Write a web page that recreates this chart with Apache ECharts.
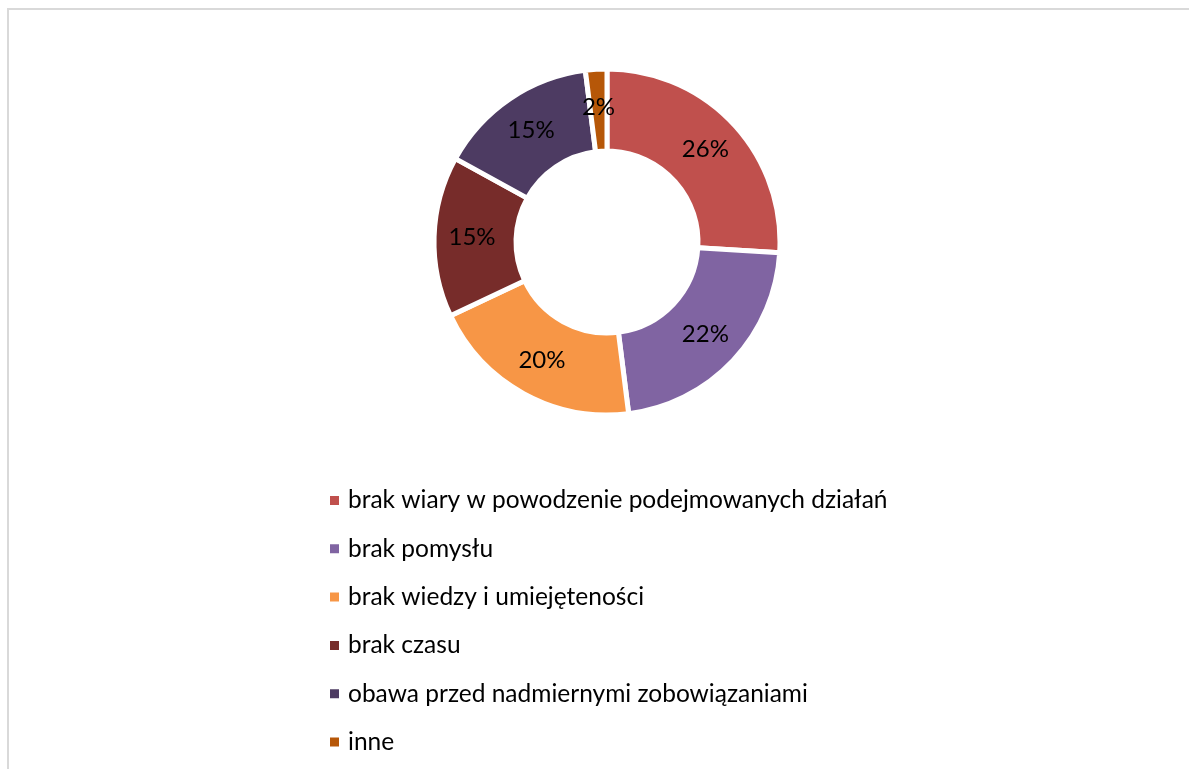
<!DOCTYPE html>
<html>
<head>
<meta charset="utf-8">
<script src="https://cdn.jsdelivr.net/npm/echarts@6/dist/echarts.min.js"></script>
<style>
  html, body { margin: 0; padding: 0; background: #fff; }
  #frame {
    position: absolute; left: 7px; top: 8px; width: 1182px; height: 761px;
    border-left: 2px solid #d9d9d9; border-top: 2px solid #d9d9d9;
  }
  #chart { position: absolute; left: 0; top: 0; width: 1189px; height: 769px; }
</style>
</head>
<body>
<div id="frame"></div>
<div id="chart"></div>
<script>
const categories = [
  'brak wiary w powodzenie podejmowanych działań',
  'brak pomysłu',
  'brak wiedzy i umiejęteności',
  'brak czasu',
  'obawa przed nadmiernymi zobowiązaniami',
  'inne'
];
const values = [26, 22, 20, 15, 15, 2];
const colors = ['#C0504D', '#8064A2', '#F79646', '#772C2A', '#4D3B62', '#B65708'];

const chart = echarts.init(document.getElementById('chart'));
chart.setOption({
  animation: false,
  color: colors,
  textStyle: { fontFamily: 'Lato' },
  legend: {
    orient: 'vertical',
    left: 323,
    top: 483,
    icon: 'rect',
    itemWidth: 11,
    itemHeight: 11,
    itemGap: 23.3,
    data: categories,
    textStyle: {
      fontFamily: 'Lato',
      fontSize: 24.5,
      color: '#000',
      lineHeight: 24,
      padding: [0, 0, 0, 3]
    }
  },
  series: [{
    type: 'pie',
    center: [607, 242],
    radius: [91, 173],
    startAngle: 90,
    clockwise: true,
    itemStyle: { borderColor: '#fff', borderWidth: 5 },
    label: {
      position: 'inside',
      formatter: '{c}%',
      fontFamily: 'Lato',
      fontSize: 24,
      color: '#000'
    },
    labelLine: { show: false },
    data: categories.map((name, i) => ({ name: name, value: values[i] }))
  }]
});
</script>
</body>
</html>
